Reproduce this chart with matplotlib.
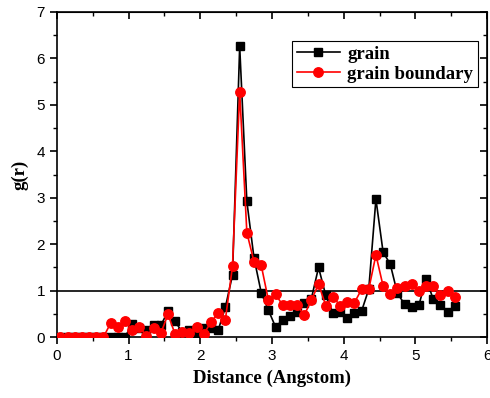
import numpy as np
import matplotlib
matplotlib.use("Agg")
import matplotlib.pyplot as plt

# distances (Angstrom), bins of 0.1 centred on .05
distance = [0.05, 0.15, 0.25, 0.35, 0.45, 0.55, 0.65, 0.75, 0.85, 0.95,
            1.05, 1.15, 1.25, 1.35, 1.45, 1.55, 1.65, 1.75, 1.85, 1.95,
            2.05, 2.15, 2.25, 2.35, 2.45, 2.55, 2.65, 2.75, 2.85, 2.95,
            3.05, 3.15, 3.25, 3.35, 3.45, 3.55, 3.65, 3.75, 3.85, 3.95,
            4.05, 4.15, 4.25, 4.35, 4.45, 4.55, 4.65, 4.75, 4.85, 4.95,
            5.05, 5.15, 5.25, 5.35, 5.45, 5.55]

g_grain = [0, 0, 0, 0, 0, 0, 0, 0, 0, 0,
           0.28, 0.20, 0.15, 0.26, 0.25, 0.56, 0.34, 0.10, 0.16, 0.08,
           0.20, 0.19, 0.15, 0.64, 1.34, 6.26, 2.92, 1.70, 0.96, 0.58,
           0.22, 0.37, 0.45, 0.55, 0.73, 0.83, 1.50, 0.90, 0.52, 0.55,
           0.42, 0.51, 0.56, 1.03, 2.97, 1.83, 1.57, 0.94, 0.71, 0.65,
           0.69, 1.26, 0.81, 0.69, 0.55, 0.67]

g_boundary = [0, 0, 0, 0, 0, 0, 0, 0.30, 0.22, 0.35,
              0.15, 0.22, 0.03, 0.19, 0.08, 0.49, 0.06, 0.10, 0.08, 0.22,
              0.06, 0.33, 0.51, 0.37, 1.53, 5.28, 2.25, 1.62, 1.55, 0.80,
              0.92, 0.69, 0.69, 0.69, 0.47, 0.80, 1.14, 0.68, 0.87, 0.68,
              0.76, 0.74, 1.03, 1.03, 1.77, 1.10, 0.93, 1.05, 1.10, 1.14,
              0.99, 1.10, 1.10, 0.90, 1.00, 0.87]

fig = plt.figure(figsize=(4.9, 3.98), dpi=100)
ax = fig.add_axes([0.116, 0.153, 0.878, 0.817])

ax.axhline(1.0, color='black', lw=1.2, zorder=1)
ax.plot(distance, g_grain, color='black', marker='s', markersize=5.8,
        lw=1.2, label='grain', zorder=2)
ax.plot(distance, g_boundary, color='red', marker='o', markersize=6.8,
        lw=1.2, label='grain boundary', zorder=3)

ax.set_xlim(0, 6)
ax.set_ylim(0, 7)
ax.set_xticks(np.arange(0, 7, 1))
ax.set_yticks(np.arange(0, 8, 1))
ax.set_xticks(np.arange(0, 6.01, 0.5), minor=True)
ax.set_yticks(np.arange(0, 7.01, 0.5), minor=True)
ax.tick_params(which='major', direction='out', length=5, width=1.2,
               labelsize=11)
ax.tick_params(which='minor', direction='out', length=3, width=1.0)
for lab in ax.get_xticklabels() + ax.get_yticklabels():
    lab.set_family('Liberation Sans')

# mirror ticks pointing inward on top / right
top = ax.secondary_xaxis('top')
top.set_xticks(np.arange(0, 7, 1))
top.set_xticks(np.arange(0, 6.01, 0.5), minor=True)
top.tick_params(which='major', direction='in', length=5, width=1.2, labeltop=False)
top.tick_params(which='minor', direction='in', length=3, width=1.0)
right = ax.secondary_yaxis('right')
right.set_yticks(np.arange(0, 8, 1))
right.set_yticks(np.arange(0, 7.01, 0.5), minor=True)
right.tick_params(which='major', direction='in', length=5, width=1.2, labelright=False)
right.tick_params(which='minor', direction='in', length=3, width=1.0)

for s in ax.spines.values():
    s.set_linewidth(1.2)

ax.set_xlabel('Distance (Angstom)', family='Liberation Serif',
              fontweight='bold', fontsize=13.5, labelpad=5)
ax.set_ylabel('g(r)', family='Liberation Serif', fontweight='bold',
              fontsize=13.5, labelpad=6)

leg = ax.legend(loc='upper right', bbox_to_anchor=(0.979, 0.911),
                borderaxespad=0,
                prop={'family': 'Liberation Serif', 'weight': 'bold', 'size': 13.5},
                fancybox=False, edgecolor='black', framealpha=1,
                handlelength=2.3, borderpad=0.25, labelspacing=0.15,
                handletextpad=0.4)
leg.get_frame().set_linewidth(0.8)

fig.savefig('out.png', dpi=100)
